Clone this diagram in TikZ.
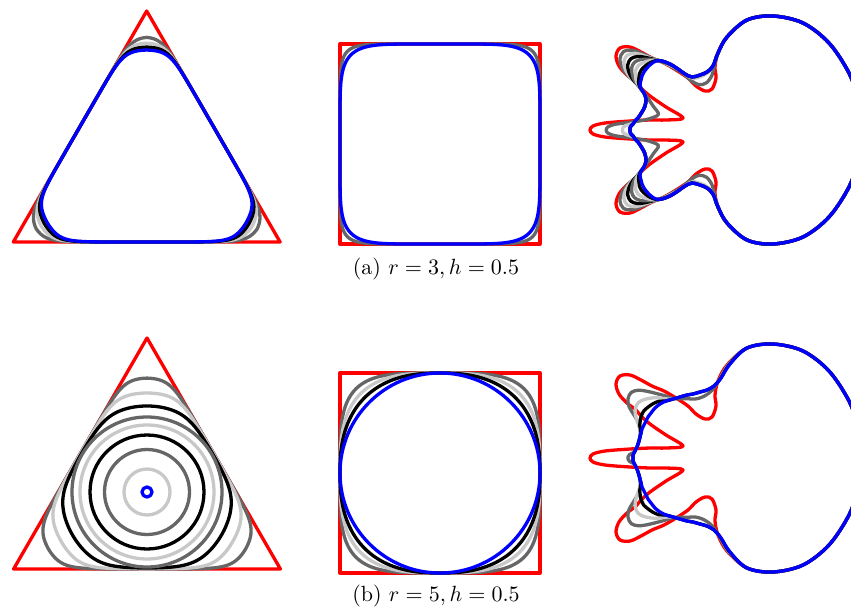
\documentclass[tikz,border=0pt]{standalone}
\usetikzlibrary{calc}
\definecolor{cRed}{RGB}{255,0,0}
\definecolor{cBlue}{RGB}{0,0,255}
\definecolor{cDg}{RGB}{102,102,102}
\definecolor{cLg}{RGB}{200,200,200}
\tikzset{
  base/.style={line width=3.3pt, line join=round, line cap=round},
  cr/.style={base, draw=cRed},
  cb/.style={base, draw=cBlue},
  cdg/.style={base, draw=cDg},
  clg/.style={base, draw=cLg},
  cbk/.style={base, draw=black},
  caption/.style={inner sep=0pt, scale=2.2},
  declare function={
    triR(\t)=77/max(cos(\t+90),cos(\t-30),cos(\t-150));
    rhoS(\t,\R,\k)=min(\R,triR(\t))*(1+(min(\R,triR(\t))/max(\R,triR(\t)))^\k)^(-1/\k);
    seX(\t,\p)=sign(cos(\t))*abs(cos(\t))^(2/\p);
    seY(\t,\p)=sign(sin(\t))*abs(sin(\t))^(2/\p);
  }
}
% upper half of the third shape: red / target a / target b / weight a / weight b
\def\curvedata{773/16/773/16/773/16/1/1, 747/20/747/20/747/20/1/1,
 727/37/727/37/730/36/1/1, 718/53/718/53/721/50/1/1,
 715/67/713/66/714/58/3/2, 716/78/707/72/707/62/3/2,
 712/89/700/75/700/64/3/2, 705/91/692/77/693/66/3/2,
 696/86/685/74/687/67/3/2, 688/78/678/69/680/69/3/2,
 676/70/670/64/673/71/2/1.5, 664/63/662/61/666/73/1.5/1.2,
 652/58/656/61/660/76/1/1, 641/52/651/64/655/80/1/1,
 630/47/647/68/651/85/1/1, 620/48/644/72/648/89/1/1,
 616/56/642/76/646/93/1/1, 619/66/641/80/644/97/1/1,
 627/75/640/85/642/101/1/1, 636/82/641/89/641/105/1.5/1.5,
 641/88/644/93/640/109/2/2, 650/96/646/99/639/113/4/3,
 666/107/645/106/638/116/4/3, 683/118/642/112/637/119/4/3,
 666/120/638/118/636/121/4/3, 650/120/635/121/635/123/4/3,
 630/121/633/124/634/125/2.7/2.2, 605/123/631/126/633/127/2.7/2.2,
 593/126/630/128/633/129/2.7/2.2, 590/130/630/130/633/130/2.7/2.2}
\def\rightdata{803/237, 829/217, 849/187, 858/160, 861/130, 858/100, 849/73, 829/43, 803/23}
\def\drawcurve#1#2{\draw[#2] plot[smooth cycle, tension=0.55] coordinates {#1};}
% #1 time, #2 style, #3 target (0 = a, 1 = b), #4 vertical offset
\newcommand\evo[4]{%
  \gdef\evU{}\gdef\evL{}\gdef\evR{}%
  \foreach \vRx/\vRy/\vAx/\vAy/\vBx/\vBy/\vWa/\vWb [count=\i] in \curvedata {%
    \pgfmathsetmacro\evTX{(1-#3)*\vAx+#3*\vBx}%
    \pgfmathsetmacro\evTY{(1-#3)*\vAy+#3*\vBy}%
    \pgfmathsetmacro\evW{(1-#3)*\vWa+#3*\vWb}%
    \pgfmathsetmacro\evF{min(1,#1*\evW)}%
    \pgfmathsetmacro\evPX{\vRx+\evF*(\evTX-\vRx)}%
    \pgfmathsetmacro\evPY{\vRy+\evF*(\evTY-\vRy)}%
    \pgfmathsetmacro\evYU{\evPY+#4}%
    \pgfmathsetmacro\evYL{260-\evPY+#4}%
    \xdef\evU{\evU (\evPX,\evYU)}%
    \ifnum\i<30 \xdef\evL{(\evPX,\evYL) \evL}\fi
  }%
  \foreach \vX/\vY in \rightdata {%
    \pgfmathsetmacro\evYR{\vY+#4}%
    \xdef\evR{\evR (\vX,\evYR)}%
  }%
  \xdef\evAll{\evU\evL\evR}%
  \expandafter\drawcurve\expandafter{\evAll}{#2}%
}
\begin{document}
\begin{tikzpicture}[x=1pt, y=-1pt]
\useasboundingbox (0,0) rectangle (851,614);
\clip (0,0) rectangle (851,614);

% ---------- row (a) ----------
% triangle
\draw[cr] (146.7,11) -- (280.1,242) -- (13.3,242) -- cycle;
\foreach \R/\st in {128/cdg, 122/clg, 118/cbk, 115/cb}{
  \draw[\st] plot[variable=\t, domain=0:360, samples=241]
    ({146.7+rhoS(\t,\R,16)*cos(\t)}, {165-rhoS(\t,\R,16)*sin(\t)}) -- cycle;
}
% square
\draw[cr] (340,44) rectangle (540,244);
\foreach \p/\st in {9/cdg, 6/cb}{
  \draw[\st] plot[variable=\t, domain=0.5:360.5, samples=361]
    ({440+100*seX(\t,\p)}, {144-100*seY(\t,\p)}) -- cycle;
}
% third shape
\evo{0}{cr}{0}{0}
\foreach \tt/\st in {0.15/cdg, 0.3/clg, 0.45/cbk, 0.6/cdg, 0.75/clg, 0.9/cbk}{\evo{\tt}{\st}{0}{0}}
\evo{1}{cb}{0}{0}
\node[caption] (capa) at (436,269) {(a) $r=3,h=0.5$};

% ---------- row (b) ----------
\draw[cr] (147,338) -- (280.4,569) -- (13.6,569) -- cycle;
\foreach \R/\st in {114/cdg, 99/clg, 86/cbk}{
  \draw[\st] plot[variable=\t, domain=0:360, samples=241]
    ({147+rhoS(\t,\R,14)*cos(\t)}, {492-rhoS(\t,\R,14)*sin(\t)}) -- cycle;
}
\foreach \R/\st in {75/cdg, 67/clg, 57/cbk, 42.5/cdg, 23/clg}{
  \draw[\st] (147,492) circle[radius=\R];
}
\draw[cb] (147,492) circle[radius=5];
\draw[cr] (340,373) rectangle (540,573);
\foreach \p/\st in {4/cdg, 3/clg, 2.45/cbk}{
  \draw[\st] plot[variable=\t, domain=0.5:360.5, samples=361]
    ({440+100*seX(\t,\p)}, {473-100*seY(\t,\p)}) -- cycle;
}
\draw[cb] (440,473) circle[radius=100];
\evo{0}{cr}{1}{328}
\foreach \tt/\st in {0.4/cdg, 0.65/clg, 0.85/cbk}{\evo{\tt}{\st}{1}{328}}
\evo{1}{cb}{1}{328}
\node[caption] (capb) at (436,596) {(b) $r=5,h=0.5$};
\end{tikzpicture}
\end{document}
